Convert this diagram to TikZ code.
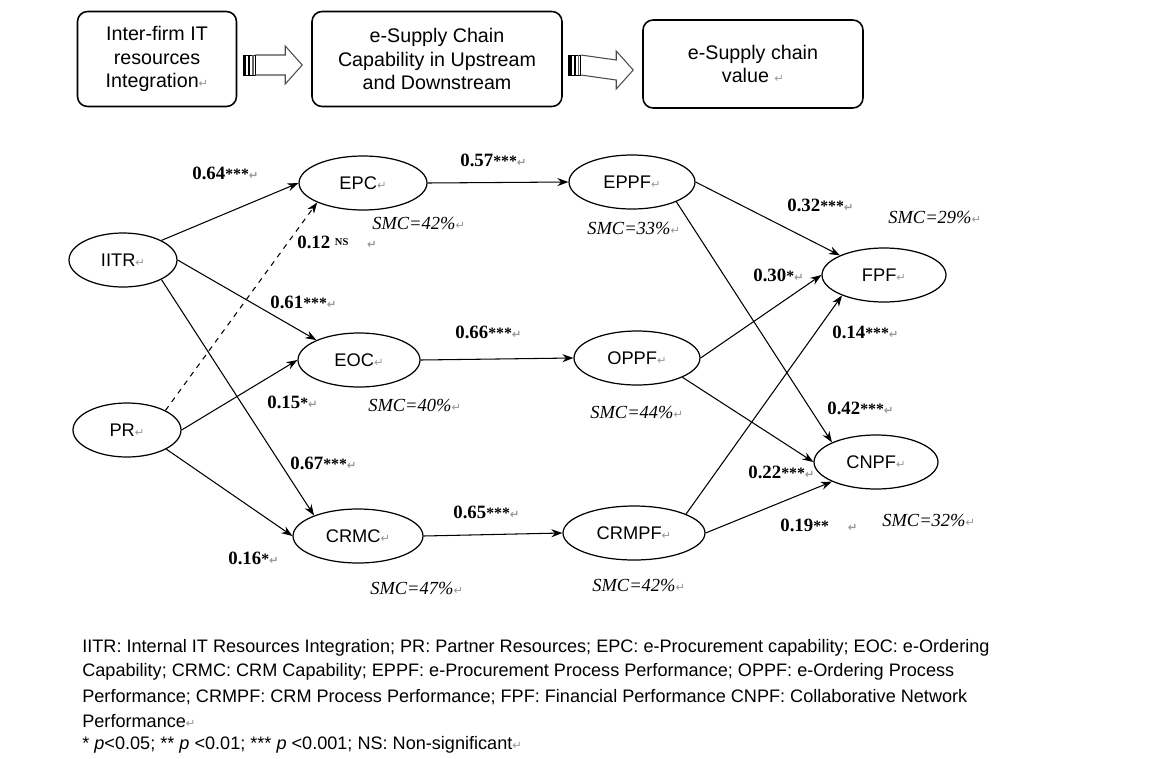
\documentclass[tikz,border=0pt]{standalone}
\usepackage{fontspec}
\setmainfont{Liberation Sans}
\newfontfamily\numfont{Liberation Serif}
\newfontfamily\symfont{DejaVu Sans}
\usepackage{tikz}
\usetikzlibrary{arrows.meta,positioning,shapes.geometric,calc}
\newcommand\pmark{{\symfont\color{black!40}\fontsize{6.5}{8}\selectfont ↵}}
\newcommand\coef[2]{#1{\fontsize{9}{10}\selectfont #2}}

\begin{document}
\begin{tikzpicture}[x=0.02cm, y=-0.02cm,
  every node/.style={font=\fontsize{10.4}{12}\selectfont},
  box/.style={draw, rounded corners=2mm, line width=0.9pt, align=center, inner sep=0pt,
    minimum height=1.9cm, font=\fontsize{11.2}{13.6}\selectfont},
  ell/.style={draw, ellipse, line width=0.7pt, inner sep=0pt, minimum height=1.08cm},
  coefl/.style={anchor=west, inner sep=0pt, font=\numfont\bfseries\fontsize{10.7}{12}\selectfont},
  smcl/.style={anchor=west, inner sep=0pt, font=\numfont\itshape\fontsize{10.5}{12}\selectfont},
  capl/.style={anchor=west, inner sep=0pt, font=\fontsize{10.3}{12}\selectfont},
  conn/.style={-{Stealth[length=2.2mm,width=1.6mm]}, line width=0.6pt}]
  \useasboundingbox (0,0) rectangle (1164,758);

  % framework boxes
  \node[box, minimum width=3.18cm] (box1) at (157,59) {Inter-firm IT\\ resources\\ Integration\pmark};
  \node[box, minimum width=5cm] (box2) at (437,59) {e-Supply Chain\\ Capability in Upstream\\ and Downstream};
  \node[box, minimum width=4.4cm, minimum height=1.76cm] (box3) at (753,64) {e-Supply chain\\ value \pmark};
  \foreach \a/\b in {box1/box2, box2/box3} {
    \coordinate (s) at ($(\a.east)+(6,6)$);
    \coordinate (t) at ($(\b.west)+(-9,6)$);
    \draw[line width=0.5pt] ($(s)+(0,-10)$) rectangle ($(s)+(12,10)$);
    \fill ($(s)+(0,-10)$) rectangle ($(s)+(3,10)$);
    \fill ($(s)+(5,-10)$) rectangle ($(s)+(7,10)$);
    \fill[black!60] ($(s)+(9,-10)$) rectangle ($(s)+(10.5,10)$);
    \draw[line width=0.6pt, black!70] ($(s)+(12,-10)$) -- ($(t)+(-17,-10)$) -- ($(t)+(-17,-19)$)
      -- (t) -- ($(t)+(-17,19)$) -- ($(t)+(-17,10)$) -- ($(s)+(12,10)$);
  }

  % latent variables
  \node[ell, minimum width=2.16cm] (IITR) at (123,260) {IITR\pmark};
  \node[ell, minimum width=2.16cm] (PR) at (127,430) {PR\pmark};
  \node[ell, minimum width=2.56cm] (EPC) at (363,183) {EPC\pmark};
  \node[ell, minimum width=2.44cm] (EOC) at (359,360) {EOC\pmark};
  \node[ell, minimum width=2.6cm] (CRMC) at (358,536) {CRMC\pmark};
  \node[ell, minimum width=2.52cm] (EPPF) at (632,182) {EPPF\pmark};
  \node[ell, minimum width=2.52cm] (OPPF) at (637,358) {OPPF\pmark};
  \node[ell, minimum width=2.84cm] (CRMPF) at (634,533) {CRMPF\pmark};
  \node[ell, minimum width=2.48cm] (FPF) at (884,275) {FPF\pmark};
  \node[ell, minimum width=2.48cm] (CNPF) at (876,462) {CNPF\pmark};

  % paths
  \draw[conn] (IITR.27) -- (EPC.west);
  \draw[conn, dashed] (PR.27) -- (EPC.203);
  \draw[conn] (IITR.east) -- (EOC.155);
  \draw[conn] (IITR.-27) -- (CRMC.155);
  \draw[conn] (PR.east) -- (EOC.west);
  \draw[conn] (PR.-26) -- (CRMC.west);
  \draw[conn] (EPC.east) -- (EPPF.west);
  \draw[conn] (EOC.east) -- (OPPF.west);
  \draw[conn] (CRMC.east) -- (CRMPF.west);
  \draw[conn] (EPPF.east) -- (FPF.156);
  \draw[conn] (EPPF.-24) -- (CNPF.156);
  \draw[conn] (OPPF.east) -- (FPF.west);
  \draw[conn] (OPPF.-23) -- (CNPF.west);
  \draw[conn] (CRMPF.20) -- (FPF.206);
  \draw[conn] (CRMPF.east) -- (CNPF.204);

  % coefficients
  \node[coefl] (c64) at (192,173) {\coef{0.64}{***}\pmark};
  \node[coefl] (c12) at (297,242) {0.12 {\fontsize{6}{7}\selectfont\raisebox{0.6ex}{NS}}\quad\pmark};
  \node[coefl] (c61) at (270,302) {\coef{0.61}{***}\pmark};
  \node[coefl] (c57) at (460,160) {\coef{0.57}{***}\pmark};
  \node[coefl] (c32) at (787,205) {\coef{0.32}{***}\pmark};
  \node[coefl] (c30) at (753,275) {\coef{0.30}{*}\pmark};
  \node[coefl] (c14) at (832,332) {\coef{0.14}{***}\pmark};
  \node[coefl] (c15) at (267,402) {\coef{0.15}{*}\pmark};
  \node[coefl] (c67) at (290,463) {\coef{0.67}{***}\pmark};
  \node[coefl] (c66) at (455,332) {\coef{0.66}{***}\pmark};
  \node[coefl] (c42) at (827,408) {\coef{0.42}{***}\pmark};
  \node[coefl] (c22) at (748,472) {\coef{0.22}{***}\pmark};
  \node[coefl] (c65) at (453,512) {\coef{0.65}{***}\pmark};
  \node[coefl] (c16) at (228,558) {\coef{0.16}{*}\pmark};
  \node[coefl] (c19) at (780,525) {\coef{0.19}{**}\quad\pmark};

  % squared multiple correlations
  \node[smcl] (sEPC) at (372,223) {SMC=42\%\pmark};
  \node[smcl] (sEPPF) at (587,228) {SMC=33\%\pmark};
  \node[smcl] (sFPF) at (888,217) {SMC=29\%\pmark};
  \node[smcl] (sEOC) at (368,405) {SMC=40\%\pmark};
  \node[smcl] (sOPPF) at (590,412) {SMC=44\%\pmark};
  \node[smcl] (sCRMC) at (370,588) {SMC=47\%\pmark};
  \node[smcl] (sCRMPF) at (592,585) {SMC=42\%\pmark};
  \node[smcl] (sCNPF) at (882,520) {SMC=32\%\pmark};

  % legend
  \node[capl] (cap1) at (82,648) {IITR: Internal IT Resources Integration; PR: Partner Resources; EPC: e-Procurement capability; EOC: e-Ordering};
  \node[capl] (cap2) at (82,672) {Capability; CRMC: CRM Capability; EPPF: e-Procurement Process Performance; OPPF: e-Ordering Process};
  \node[capl] (cap3) at (82,697) {Performance; CRMPF: CRM Process Performance; FPF: Financial Performance CNPF: Collaborative Network};
  \node[capl] (cap4) at (82,721) {Performance\pmark};
  \node[capl] (cap5) at (82,745) {* \textit{p}<0.05; ** \textit{p} <0.01; *** \textit{p} <0.001; NS: Non-significant\pmark};
\end{tikzpicture}
\end{document}
